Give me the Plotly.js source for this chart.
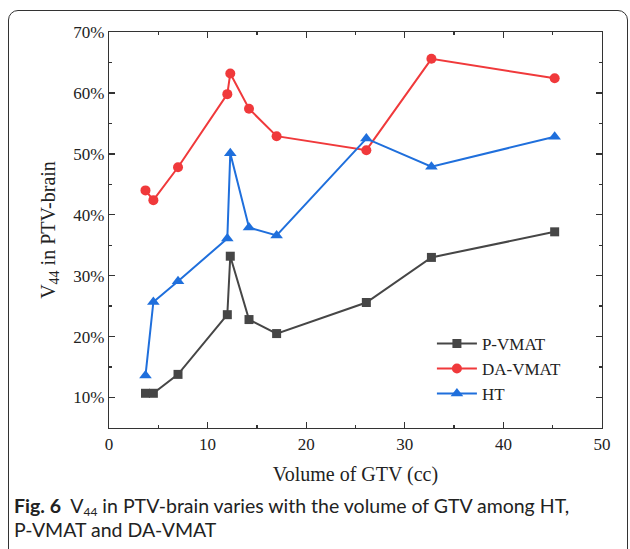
<!DOCTYPE html>
<html>
<head>
<meta charset="utf-8">
<script src="https://cdn.plot.ly/plotly-3.0.1.min.js"></script>
<style>
  html, body { margin: 0; padding: 0; background: #fff; }
  #wrap { position: relative; width: 630px; height: 549px; overflow: hidden; }
  #chart { position: absolute; left: 0; top: 0; width: 630px; height: 549px; }
  #frame { position: absolute; left: 8px; top: 10px; width: 620px; height: 600px;
           border: 1px solid #333; border-radius: 10px; pointer-events: none; box-sizing: border-box; }
  .cap { position: absolute; left: 14px; width: 610px; white-space: nowrap;
         font-family: Lato, "Noto Sans", sans-serif; font-size: 19.5px; line-height: 22px; color: #222; }
  .cap b { font-weight: 700; }
  .cap sub { font-size: 12px; vertical-align: -3px; line-height: 0; }
</style>
</head>
<body>
<div id="wrap">
  <div id="chart"></div>
  <div id="frame"></div>
  <div class="cap" style="top:495px;"><b>Fig. 6</b>&nbsp; V<sub>44</sub> in PTV-brain varies with the volume of GTV among HT,</div>
  <div class="cap" style="top:519px;">P-VMAT and DA-VMAT</div>
</div>
<script>
const gtvVolume = [3.7, 4.5, 7.0, 12.0, 12.3, 14.2, 17.0, 26.1, 32.7, 45.2];
const pVmat  = [10.7, 10.7, 13.8, 23.6, 33.2, 22.8, 20.5, 25.6, 33.0, 37.2];
const daVmat = [44.0, 42.4, 47.8, 59.8, 63.2, 57.4, 52.9, 50.6, 65.6, 62.4];
const ht     = [13.6, 25.7, 29.1, 36.1, 50.1, 37.9, 36.6, 52.5, 47.9, 52.8];
const seriesNames = ['P-VMAT', 'DA-VMAT', 'HT'];
const xTickVals = [0, 10, 20, 30, 40, 50];
const yTickVals = [10, 20, 30, 40, 50, 60, 70];
const yTickText = ['10%', '20%', '30%', '40%', '50%', '60%', '70%'];

const serif = 'Liberation Serif, Times New Roman, serif';

const traces = [
  { x: gtvVolume, y: pVmat, name: seriesNames[0], type: 'scatter', mode: 'lines+markers',
    line: { color: '#464646', width: 2 }, marker: { symbol: 'square', size: 9, color: '#464646' } },
  { x: gtvVolume, y: daVmat, name: seriesNames[1], type: 'scatter', mode: 'lines+markers',
    line: { color: '#f0393b', width: 2 }, marker: { symbol: 'circle', size: 10, color: '#f0393b' } },
  { x: gtvVolume, y: ht, name: seriesNames[2], type: 'scatter', mode: 'lines+markers',
    line: { color: '#1f6fdc', width: 2 }, marker: { symbol: 'triangle-up', size: 11, color: '#1f6fdc' } }
];

const axisCommon = {
  showline: true, linecolor: '#333', linewidth: 1.3, mirror: 'ticks',
  ticks: 'inside', ticklen: 6, tickwidth: 1.3, tickcolor: '#333',
  showgrid: false, zeroline: false,
  tickfont: { family: serif, size: 17, color: '#222' },
  minor: { ticks: 'inside', ticklen: 3, tickwidth: 1.3, tickcolor: '#333', showgrid: false }
};

const layout = {
  width: 630, height: 549,
  margin: { l: 109, r: 28, t: 32, b: 121 },
  paper_bgcolor: '#fff', plot_bgcolor: '#fff',
  showlegend: true,
  legend: { x: 0.655, y: 0.258, xanchor: 'left', yanchor: 'top', bgcolor: 'rgba(0,0,0,0)',
            font: { family: serif, size: 17, color: '#222' }, tracegroupgap: 0, itemwidth: 40 },
  xaxis: Object.assign({}, axisCommon, {
    range: [0, 50], tickvals: xTickVals,
    minor: Object.assign({}, axisCommon.minor, { dtick: 5, tick0: 0 }),
    title: { text: 'Volume of GTV (cc)', font: { family: serif, size: 20, color: '#222' }, standoff: 14 }
  }),
  yaxis: Object.assign({}, axisCommon, {
    range: [5, 70], tickvals: yTickVals, ticktext: yTickText,
    minor: Object.assign({}, axisCommon.minor, { dtick: 5, tick0: 5 }),
    title: { text: 'V<sub>44</sub> in PTV-brain', font: { family: serif, size: 20, color: '#222' }, standoff: 12 }
  })
};

Plotly.newPlot('chart', traces, layout, { displayModeBar: false, staticPlot: true });
</script>
</body>
</html>
